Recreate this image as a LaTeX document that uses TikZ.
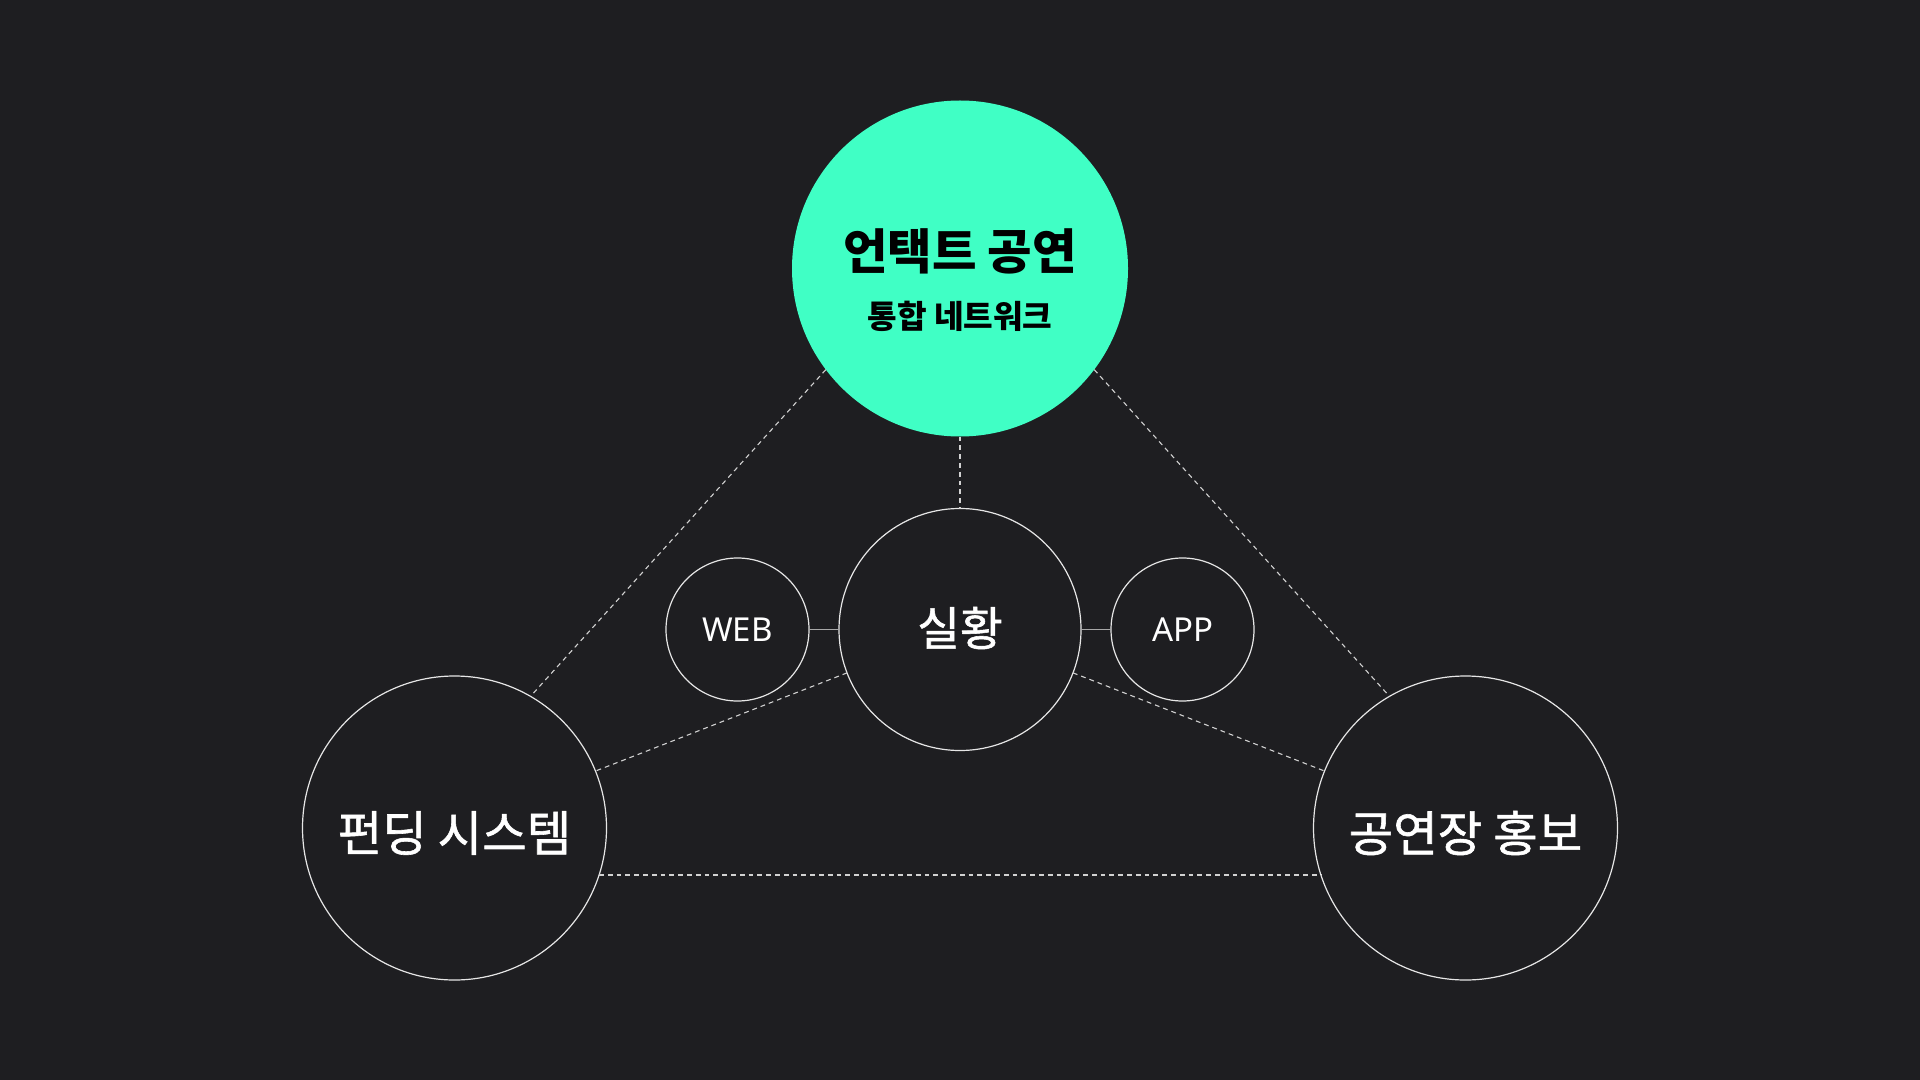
\documentclass[tikz,border=0pt]{standalone}
\usepackage{fontspec}
\setmainfont{Noto Sans CJK KR}
\newfontfamily\krfont{Noto Sans CJK KR}
\newfontfamily\krmed[FakeBold=1.2]{Noto Sans CJK KR}
\newfontfamily\latfont{Noto Sans}
\definecolor{bgc}{HTML}{1E1E21}
\definecolor{teal}{HTML}{40FFC5}
\definecolor{ringc}{HTML}{E6E6E6}
\definecolor{dashc}{HTML}{D2D2D2}
\definecolor{linkc}{HTML}{A8A8A8}
\tikzset{
  ring/.style={circle, draw=ringc, line width=0.6pt, inner sep=0pt, outer sep=0pt},
  hub/.style={circle, fill=teal, inner sep=0pt, outer sep=0pt},
  dashlink/.style={draw=dashc, line width=0.55pt, dash pattern=on 2.4pt off 2pt},
  solidlink/.style={draw=linkc, line width=0.8pt},
  bigtxt/.style={text=white, font=\krmed\fontsize{24.2}{28}\selectfont, inner sep=0pt},
  smalltxt/.style={text=white, font=\latfont\fontsize{16.5}{19}\selectfont, inner sep=0pt},
}
\begin{document}
\begin{tikzpicture}[x=0.5pt, y=-0.5pt]
\fill[bgc] (0,0) rectangle (1920,1080);
\useasboundingbox (0,0) rectangle (1920,1080);
% circles
\node[hub, minimum size=168pt] (top) at (960,268.5) {};
\node[ring, minimum size=121pt] (mid) at (960,629.5) {};
\node[ring, minimum size=71.5pt] (web) at (737.5,629.5) {};
\node[ring, minimum size=71.5pt] (app) at (1182.5,629.5) {};
\node[ring, minimum size=152pt] (left) at (454.5,828) {};
\node[ring, minimum size=152pt] (right) at (1465.5,828) {};
% labels
\node[inner sep=0pt, text=black, font=\krfont\bfseries\fontsize{24.2}{28}\selectfont] (t1) at (960,251) {언택트 공연};
\node[inner sep=0pt, text=black, font=\krfont\bfseries\fontsize{16.1}{19}\selectfont] (t2) at (960,316) {통합 네트워크};
\node[bigtxt, font=\krmed\fontsize{23.2}{28}\selectfont] (midlab) at (960,628) {실황};
\node[smalltxt] (weblab) at (737.5,629.5) {WEB};
\node[smalltxt] (applab) at (1182.5,629.5) {APP};
\node[bigtxt] (leftlab) at (454.5,833) {펀딩 시스템};
\node[bigtxt] (rightlab) at (1465.5,833) {공연장 홍보};
% connectors
\draw[dashlink] (top.217) -- (left.60);
\draw[dashlink] (top.-37) -- (right.120);
\draw[dashlink] (top.south) -- (mid.north);
\draw[dashlink] (mid.201.5) -- (left.22);
\draw[dashlink] (mid.-21.5) -- (right.158);
\draw[dashlink] (left.-18) -- (right.198);
\draw[solidlink] (web.east) -- (mid.west);
\draw[solidlink] (mid.east) -- (app.west);
\end{tikzpicture}
\end{document}
